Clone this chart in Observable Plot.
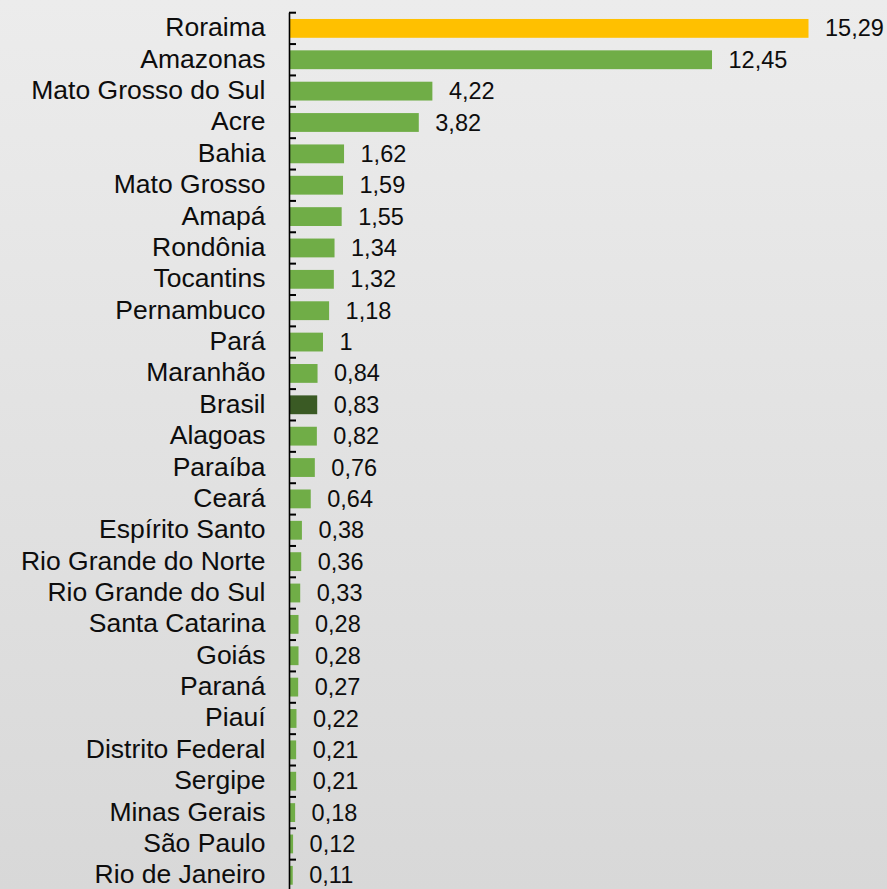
<!DOCTYPE html>
<html>
<head>
<meta charset="utf-8">
<script src="https://cdn.jsdelivr.net/npm/d3@7"></script>
<script src="https://cdn.jsdelivr.net/npm/@observablehq/plot@0.6"></script>
<style>
  html, body { margin: 0; padding: 0; background: #e2e2e2; }
  #chart svg { display: block; }
</style>
</head>
<body>
<div id="chart"></div>
<script>
const states = ["Roraima","Amazonas","Mato Grosso do Sul","Acre","Bahia","Mato Grosso","Amapá","Rondônia","Tocantins","Pernambuco","Pará","Maranhão","Brasil","Alagoas","Paraíba","Ceará","Espírito Santo","Rio Grande do Norte","Rio Grande do Sul","Santa Catarina","Goiás","Paraná","Piauí","Distrito Federal","Sergipe","Minas Gerais","São Paulo","Rio de Janeiro"];
const values = [15.29,12.45,4.22,3.82,1.62,1.59,1.55,1.34,1.32,1.18,1,0.84,0.83,0.82,0.76,0.64,0.38,0.36,0.33,0.28,0.28,0.27,0.22,0.21,0.21,0.18,0.12,0.11];
const highlight = "Roraima";
const national = "Brasil";
const colors = {base: "#70AD47", highlight: "#FFC000", national: "#3A5A24"};

const data = states.map((name, i) => ({name, value: values[i]}));
const fillOf = d => d.name === highlight ? colors.highlight : d.name === national ? colors.national : colors.base;
const fmt = v => String(v).replace(".", ",");

const W = 887, H = 889, mL = 289, mR = 78.5;
const xMax = 15.29;
const yRange = [12.7, 891];
const padInner = 0.4, padOuter = 0.2;
const step = (yRange[1] - yRange[0]) / states.length;
const tickLen = 7 * xMax / (W - mL - mR);

const chart = Plot.plot({
  width: W,
  height: H,
  marginLeft: mL,
  marginRight: mR,
  marginTop: 12.7,
  marginBottom: 0,
  style: {fontFamily: "'Liberation Sans', Arial, sans-serif", color: "#0d0d0d", background: "linear-gradient(to bottom, #ececec 0%, #d8d8d8 100%)"},
  x: {domain: [0, xMax], axis: null},
  y: {domain: states, range: yRange, paddingInner: padInner, paddingOuter: padOuter, round: false, axis: null},
  marks: [
    Plot.barX(data, {x: "value", y: "name", fill: fillOf}),
    Plot.text(data, {x: "value", y: "name", text: d => fmt(d.value), dx: 16, textAnchor: "start", fontSize: 23.5, fill: "#0d0d0d"}),
    Plot.text(states, {y: d => d, frameAnchor: "left", textAnchor: "end", dx: -24, dy: -1, fontSize: 26.5, fill: "#0d0d0d"}),
    // category boundary ticks: thin bars at the top edge of each band
    Plot.barX(states, {x1: 0, x2: tickLen, y: d => d, dy: -step / 2, insetTop: (step * (1 - padInner)) / 2 - 1, insetBottom: (step * (1 - padInner)) / 2 - 1, fill: "#000"}),
    Plot.ruleX([0], {stroke: "#000", strokeWidth: 1.6})
  ]
});
document.getElementById("chart").append(chart);
</script>
</body>
</html>
